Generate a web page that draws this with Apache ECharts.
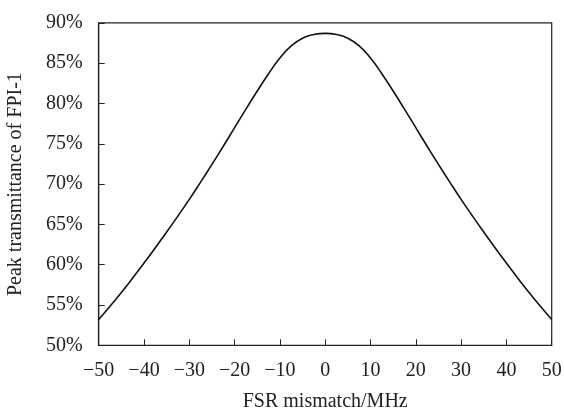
<!DOCTYPE html>
<html><head><meta charset="utf-8">
<script src="https://cdn.jsdelivr.net/npm/echarts@6/dist/echarts.min.js"></script>
<style>html,body{margin:0;padding:0;background:#fff}#c{width:564px;height:410px}</style>
</head><body><div id="c"></div>
<script>
const mismatchMHz = [-50,-47.5,-45,-42.5,-40,-37.5,-35,-32.5,-30,-27.5,-25,-22.5,-20,-17.5,-15,-12.5,-10,-7.5,-5,-2.5,0,2.5,5,7.5,10,12.5,15,17.5,20,22.5,25,27.5,30,32.5,35,37.5,40,42.5,45,47.5,50];
const transmittancePct = [53.2,54.85,56.55,58.35,60.2,62.1,64.05,66.05,68.1,70.25,72.45,74.7,77.0,79.3,81.55,83.7,85.65,87.15,88.1,88.55,88.7,88.55,88.1,87.15,85.65,83.7,81.55,79.3,77.0,74.7,72.45,70.25,68.1,66.05,64.05,62.1,60.2,58.35,56.55,54.85,53.2];
const xTicks = [-50,-40,-30,-20,-10,0,10,20,30,40,50];
const yTicks = [50,55,60,65,70,75,80,85,90];

const font = '"Liberation Serif", "Times New Roman", serif';
const chart = echarts.init(document.getElementById('c'), null, {renderer:'canvas'});
const axisLine = {show:true, onZero:false, lineStyle:{color:'#222', width:1.2}};
chart.setOption({
  animation:false,
  backgroundColor:'#fff',
  grid:{left:98.7, right:12.3, top:22.9, bottom:64.7, containLabel:false, outerBoundsMode:'none',
    show:true, borderColor:'#222', borderWidth:1.2, backgroundColor:'transparent'},
  xAxis:{type:'value', min:xTicks[0], max:xTicks[xTicks.length-1], interval:10,
    name:'FSR mismatch/MHz', nameLocation:'middle', nameGap:46,
    nameTextStyle:{fontFamily:font, fontSize:20, color:'#222'},
    axisLine:axisLine, axisTick:{show:true, inside:true, length:6, lineStyle:{color:'#222'}},
    splitLine:{show:false},
    axisLabel:{fontFamily:font, fontSize:20, color:'#222', margin:15,
      formatter:v=> v<0 ? '\u2212'+Math.abs(v) : String(v)}},
  yAxis:{type:'value', min:yTicks[0], max:yTicks[yTicks.length-1], interval:5,
    name:'Peak transmittance of FPI-1', nameLocation:'middle', nameGap:73,
    nameTextStyle:{fontFamily:font, fontSize:20, color:'#222'},
    axisLine:axisLine, axisTick:{show:true, inside:true, length:6, lineStyle:{color:'#222'}},
    splitLine:{show:false},
    axisLabel:{fontFamily:font, fontSize:20, color:'#222', margin:16, formatter:v=>v+'%'}},
  series:[{type:'line', data:mismatchMHz.map((x,i)=>[x,transmittancePct[i]]),
    smooth:true, symbol:'none', lineStyle:{color:'#111', width:1.6}}]
});
</script></body></html>
